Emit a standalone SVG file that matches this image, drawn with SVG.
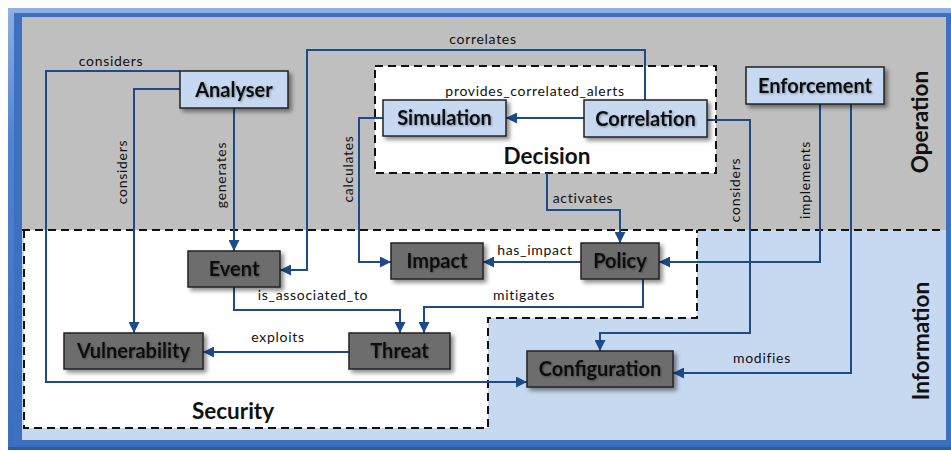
<svg xmlns="http://www.w3.org/2000/svg" width="951" height="451" viewBox="0 0 951 451">
<defs>
  <filter id="sh" x="-20%" y="-30%" width="150%" height="170%">
    <feDropShadow dx="3" dy="3" stdDeviation="2" flood-color="#000" flood-opacity="0.45"/>
  </filter>
  <filter id="tsh" x="-10%" y="-30%" width="130%" height="170%">
    <feDropShadow dx="1" dy="1" stdDeviation="1" flood-color="#000" flood-opacity="0.35"/>
  </filter>
  <marker id="arr" viewBox="0 0 10 10" refX="10" refY="5" markerWidth="11" markerHeight="11" markerUnits="userSpaceOnUse" orient="auto">
    <path d="M0,0 L10,5 L0,10 z" fill="#1f4a8a"/>
  </marker>
  <linearGradient id="frameTop" x1="0" y1="0" x2="0" y2="1">
    <stop offset="0" stop-color="#8fb0e2"/>
    <stop offset="0.3" stop-color="#4f84d2"/>
    <stop offset="1" stop-color="#3b6dbd"/>
  </linearGradient>
</defs>
<style>
  .lbl { font-family: Lato, "Liberation Sans", sans-serif; font-size: 14px; letter-spacing: 0.7px; fill: #111; }
  .nt { font-family: Lato, "Liberation Sans", sans-serif; font-size: 20px; font-weight: bold; fill: #111; text-anchor: middle; }
  .big { font-family: Lato, "Liberation Sans", sans-serif; font-size: 22.5px; font-weight: bold; fill: #111; text-anchor: middle; }
  .op { fill: #c6d9f1; stroke: #222; stroke-width: 1.5; }
  .info { fill: #6d6d6d; stroke: #222; stroke-width: 1.5; }
  .dash { fill: none; stroke: #111; stroke-width: 2; stroke-dasharray: 8 5; }
  .ca { fill: none; stroke: #1f4a8a; stroke-width: 2; marker-end: url(#arr); }
</style>
<rect x="0" y="0" width="951" height="451" fill="#ffffff"/>
<!-- frame -->
<rect x="8" y="8" width="943" height="442" fill="url(#frameTop)"/>
<rect x="8" y="447" width="943" height="3" fill="#2f5a9e"/>
<rect x="14" y="13" width="937" height="432" fill="#3d70c0"/>
<!-- layers -->
<rect x="22" y="17" width="924" height="213" fill="#bfbfbf"/>
<rect x="22" y="230" width="924" height="210" fill="#c6d9f1"/>
<g id="security-area">
  <path d="M24,230 H697 V318 H488 V428 H24 Z" fill="#ffffff"/>
  <path d="M24,230 V428 H488 V318 H697 V230" class="dash"/>
</g>
<line x1="22" y1="230" x2="940" y2="230" class="dash"/>
<g id="decision-area">
  <rect x="375" y="66" width="341" height="107" class="dash" style="fill:#ffffff"/>
</g>
<!-- connectors -->
<g id="connectors">
  <path class="ca" d="M180,71 H46 V382 H527"/>
  <path class="ca" d="M180,89 H134 V333"/>
  <path class="ca" d="M234,108 V251"/>
  <path class="ca" d="M645,100 V50 H307 V270 H280"/>
  <path class="ca" d="M584,118 H506"/>
  <path class="ca" d="M383,118 H359 V262 H391"/>
  <path class="ca" d="M547,173 V210 H620 V243"/>
  <path class="ca" d="M581,262 H483"/>
  <path class="ca" d="M234,287 V310 H400 V333"/>
  <path class="ca" d="M643,279 V307 H424 V333"/>
  <path class="ca" d="M349,352 H203"/>
  <path class="ca" d="M707,120 H750 V333 H600 V351"/>
  <path class="ca" d="M820,104 V262 H659"/>
  <path class="ca" d="M851,104 V373 H673"/>
</g>
<!-- connector labels -->
<g id="labels">
  <text class="lbl" x="111" y="66" text-anchor="middle">considers</text>
  <text class="lbl" text-anchor="middle" transform="translate(127,172) rotate(-90)">considers</text>
  <text class="lbl" text-anchor="middle" transform="translate(226,175) rotate(-90)">generates</text>
  <text class="lbl" text-anchor="middle" transform="translate(353,169) rotate(-90)">calculates</text>
  <text class="lbl" text-anchor="middle" transform="translate(740,190) rotate(-90)">considers</text>
  <text class="lbl" text-anchor="middle" transform="translate(810,180) rotate(-90)">implements</text>
  <text class="lbl" x="483" y="44" text-anchor="middle">correlates</text>
  <text class="lbl" x="535" y="96" text-anchor="middle">provides_correlated_alerts</text>
  <text class="lbl" x="583" y="203" text-anchor="middle">activates</text>
  <text class="lbl" x="535" y="255" text-anchor="middle">has_impact</text>
  <text class="lbl" x="313" y="300" text-anchor="middle">is_associated_to</text>
  <text class="lbl" x="524" y="300" text-anchor="middle">mitigates</text>
  <text class="lbl" x="278" y="342" text-anchor="middle">exploits</text>
  <text class="lbl" x="762" y="363" text-anchor="middle">modifies</text>
</g>
<!-- area titles -->
<text class="big" x="547" y="164">Decision</text>
<text class="big" x="233" y="419">Security</text>
<text class="big" transform="translate(928,122) rotate(-90)">Operation</text>
<text class="big" transform="translate(929,341) rotate(-90)">Information</text>
<!-- nodes -->
<g id="analyser"><rect class="op" x="180" y="71" width="108" height="37" filter="url(#sh)"/><text class="nt" x="234" y="96.5" filter="url(#tsh)">Analyser</text></g>
<g id="simulation"><rect class="op" x="383" y="100" width="123" height="36" filter="url(#sh)"/><text class="nt" x="444.5" y="125" filter="url(#tsh)">Simulation</text></g>
<g id="correlation"><rect class="op" x="584" y="100" width="123" height="37" filter="url(#sh)"/><text class="nt" x="645.5" y="125.5" filter="url(#tsh)">Correlation</text></g>
<g id="enforcement"><rect class="op" x="746" y="67" width="138" height="37" filter="url(#sh)"/><text class="nt" x="815" y="92.5" filter="url(#tsh)">Enforcement</text></g>
<g id="event"><rect class="info" x="188" y="251" width="92" height="36" filter="url(#sh)"/><text class="nt" x="234" y="276" filter="url(#tsh)">Event</text></g>
<g id="vulnerability"><rect class="info" x="64" y="333" width="139" height="36" filter="url(#sh)"/><text class="nt" x="133.5" y="358" filter="url(#tsh)">Vulnerability</text></g>
<g id="impact"><rect class="info" x="391" y="243" width="92" height="36" filter="url(#sh)"/><text class="nt" x="437" y="268" filter="url(#tsh)">Impact</text></g>
<g id="policy"><rect class="info" x="581" y="243" width="78" height="36" filter="url(#sh)"/><text class="nt" x="620" y="268" filter="url(#tsh)">Policy</text></g>
<g id="threat"><rect class="info" x="349" y="333" width="101" height="36" filter="url(#sh)"/><text class="nt" x="399.5" y="358" filter="url(#tsh)">Threat</text></g>
<g id="configuration"><rect class="info" x="527" y="351" width="146" height="36" filter="url(#sh)"/><text class="nt" x="600" y="376" filter="url(#tsh)">Configuration</text></g>
</svg>
